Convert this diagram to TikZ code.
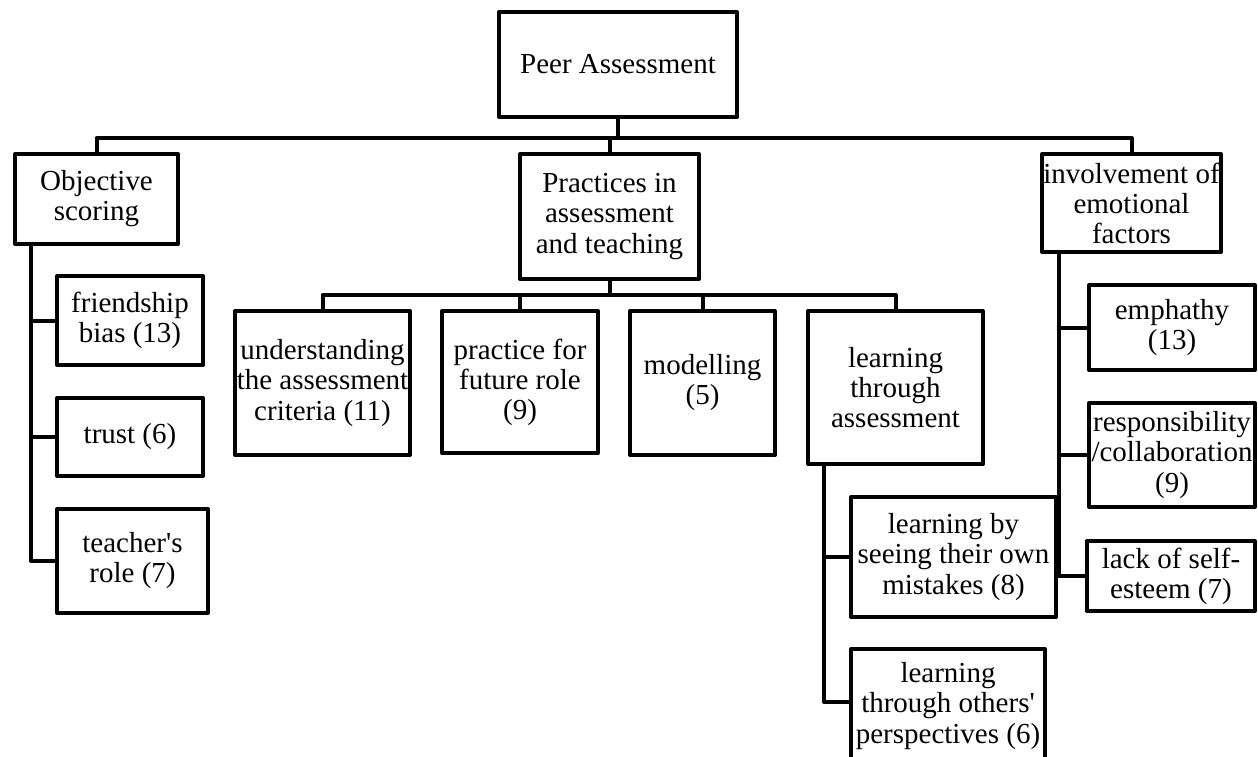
\documentclass[tikz,border=0pt]{standalone}
\usepackage{fontspec}
\setmainfont{Liberation Serif}
\usepackage{tikz}
\usetikzlibrary{positioning, calc}

\begin{document}
\begin{tikzpicture}[
    x=0.02cm, y=-0.02cm,
    box/.style={rectangle, draw, line width=0.08cm, line join=round, inner sep=0pt, align=center, font=\fontsize{16.5}{17.1}\selectfont},
    sz/.style 2 args={minimum width=#1*0.02cm, minimum height=#2*0.02cm},
    link/.style={line width=0.08cm, line join=round},
]
    \useasboundingbox (0,0) rectangle (1258,757);

    % top level
    \node[box, sz={238}{105}] (peer) at (618,64.5) {Peer Assessment};
    \node[box, sz={163}{90}] (obj) at (96.5,199) {Objective\\scoring};
    \node[box, sz={179}{125}] (prac) at (609.5,216.5) {Practices in\\assessment\\and teaching};
    \node[box, sz={179}{98}] (inv) at (1131.5,203) {involvement of\\emotional\\factors};

    % objective scoring
    \node[box, sz={146}{89}] (friend) at (130,320.5) {friendship\\bias (13)};
    \node[box, sz={146}{78}] (trust) at (130,437) {trust (6)};
    \node[box, sz={151}{104}] (teacher) at (132.5,561) {teacher\textquotesingle s\\role (7)};

    % practices
    \node[box, sz={175}{144}] (under) at (322.5,383) {understanding\\the assessment\\criteria (11)};
    \node[box, sz={156}{142}] (future) at (520,382) {practice for\\future role\\(9)};
    \node[box, sz={145}{144}] (model) at (702.5,383) {modelling\\(5)};
    \node[box, sz={175}{153}] (ltass) at (895.5,387.5) {learning\\through\\assessment};
    \node[box, sz={205}{120}] (seeing) at (953.5,557) {learning by\\seeing their own\\mistakes (8)};
    \node[box, sz={194}{114}] (others) at (948,706) {learning\\through others\textquotesingle\\perspectives (6)};

    % emotional factors
    \node[box, sz={166}{85}] (emp) at (1172,327.5) {emphathy\\(13)};
    \node[box, sz={166}{104}] (resp) at (1172,455) {responsibility\\/collaboration\\(9)};
    \node[box, sz={168}{70}] (lack) at (1171,576) {lack of self-\\esteem (7)};

    % buses
    \coordinate (bus) at (0,138);
    \coordinate (subbus) at (0,295);
    \draw[link] (peer.south) -- (peer.south |- bus);
    \draw[link] (obj.north) -- (obj.north |- bus) -- (inv.north |- bus) -- (inv.north);
    \draw[link] (prac.north) -- (prac.north |- bus);
    \draw[link] (prac.south) -- (prac.south |- subbus);
    \draw[link] (under.north) -- (under.north |- subbus) -- (ltass.north |- subbus) -- (ltass.north);
    \draw[link] (future.north) -- (future.north |- subbus);
    \draw[link] (model.north) -- (model.north |- subbus);

    % side trunks
    \coordinate (ot) at ($(obj.south west)+(18,0)$);
    \draw[link] (ot) |- (teacher.west);
    \draw[link] (ot |- friend.west) -- (friend.west);
    \draw[link] (ot |- trust.west) -- (trust.west);

    \coordinate (lt) at ($(ltass.south west)+(18,0)$);
    \draw[link] (lt) -- (lt |- 0,702) -- (others.west |- 0,702);
    \draw[link] (lt |- seeing.west) -- (seeing.west);

    \coordinate (it) at ($(inv.south west)+(19,0)$);
    \draw[link] (it) |- (lack.west);
    \draw[link] (it |- emp.west) -- (emp.west);
    \draw[link] (it |- resp.west) -- (resp.west);
\end{tikzpicture}
\end{document}
